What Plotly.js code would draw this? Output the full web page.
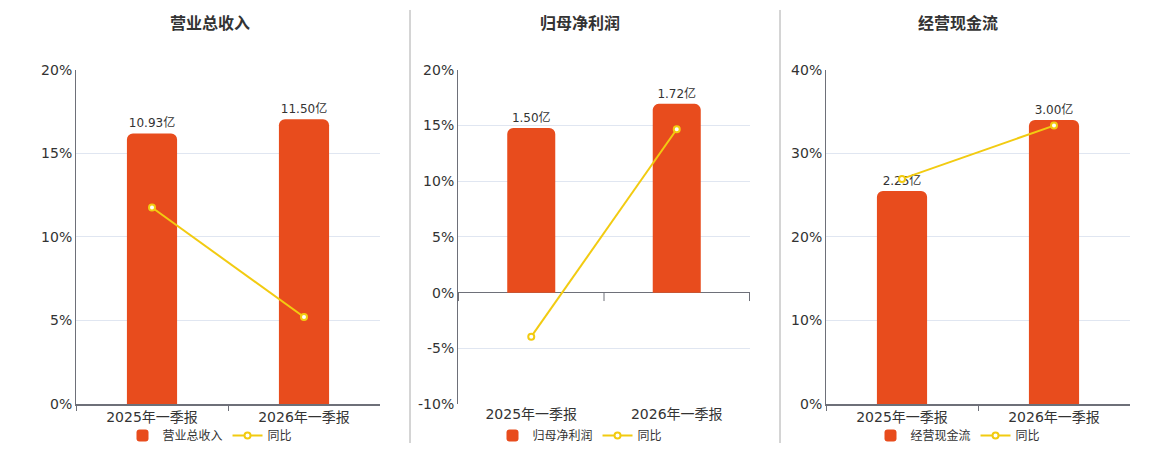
<!DOCTYPE html>
<html>
<head>
<meta charset="utf-8">
<script src="https://cdn.plot.ly/plotly-3.0.1.min.js"></script>
<style>
  html, body { margin: 0; padding: 0; background: #fff; }
  #chart { width: 1160px; height: 450px; }
</style>
</head>
<body>
<div id="chart"></div>
<script>
// categories and values
const periods = ['2025年一季报', '2026年一季报'];
const panelTitles = ['营业总收入', '归母净利润', '经营现金流'];
const revenue = [10.93, 11.50];       // 亿
const revenueYoy = [11.76, 5.21];     // %
const netProfit = [1.50, 1.72];
const netProfitYoy = [-3.95, 14.67];
const cashFlow = [2.25, 3.00];
const cashFlowYoy = [26.95, 33.33];

const barColor = '#E84C1D';
const lineColor = '#F2CB11';
const font = 'DejaVu Sans, Noto Sans CJK SC, sans-serif';
const cjk = 'Noto Sans CJK SC, sans-serif';

const panels = [
    { bars: revenue, yoy: revenueYoy, pctRange: [0, 20], dtick: 5, barRange: [0, 13.5], x: [76, 380], cx: 210 },
    { bars: netProfit, yoy: netProfitYoy, pctRange: [-10, 20], dtick: 5, barRange: [-1.015, 2.03], x: [458, 750], cx: 580 },
    { bars: cashFlow, yoy: cashFlowYoy, pctRange: [0, 40], dtick: 10, barRange: [0, 3.53], x: [826, 1130], cx: 958 }
];

const W = 1160, H = 450;
const yDomain = [1 - 405 / H, 1 - 70 / H];

const traces = [];
const layout = {
    width: W, height: H,
    margin: { l: 0, r: 0, t: 0, b: 0 },
    paper_bgcolor: '#fff', plot_bgcolor: 'rgba(0,0,0,0)',
    bargap: 0.67,
    font: { family: font, color: '#333', size: 12 },
    annotations: [], shapes: []
};

panels.forEach((p, i) => {
    const xName = i === 0 ? 'x' : 'x' + (i + 1);
    const barY = i === 0 ? 'y' : 'y' + (2 * i + 1);
    const pctY = 'y' + (2 * i + 2);
    const legendName = i === 0 ? 'legend' : 'legend' + (i + 1);
    const xKey = xName.replace('x', 'xaxis');
    const barKey = barY.replace('y', 'yaxis');
    const pctKey = pctY.replace('y', 'yaxis');

    traces.push({
        type: 'bar', x: periods, y: p.bars, xaxis: xName, yaxis: barY,
        name: panelTitles[i], legend: legendName,
        marker: { color: barColor, cornerradius: 6 },
        texttemplate: '%{y:.2f}亿', textposition: 'outside', cliponaxis: false,
        textfont: { size: 12, color: '#333', family: font }
    });
    traces.push({
        type: 'scatter', mode: 'lines+markers', x: periods, y: p.yoy, xaxis: xName, yaxis: pctY,
        name: '同比', legend: legendName,
        line: { color: lineColor, width: 2 },
        marker: { symbol: 'circle', size: 6, color: '#fff', line: { color: lineColor, width: 2 } },
        cliponaxis: false
    });

    // percent ticks with a plain hyphen for negatives
    const tickVals = [];
    for (let v = p.pctRange[0]; v <= p.pctRange[1]; v += p.dtick) tickVals.push(v);
    const tickText = tickVals.map(v => v + '%');

    const x0 = p.x[0] / W, x1 = p.x[1] / W;
    layout[xKey] = {
        domain: [x0, x1], anchor: barY, type: 'category',
        showline: i !== 1, linecolor: '#6E7079', linewidth: 1.5,
        ticks: i !== 1 ? 'outside' : '', tickson: 'boundaries', ticklen: 5, tickcolor: '#6E7079',
        showgrid: false, tickfont: { size: 14, color: '#333', family: font },
        fixedrange: true
    };
    layout[barKey] = {
        domain: yDomain, anchor: xName, range: p.barRange, visible: false, fixedrange: true
    };
    layout[pctKey] = {
        overlaying: barY, anchor: xName, side: 'left', range: p.pctRange,
        tickmode: 'array', tickvals: tickVals, ticktext: tickText,
        showline: true, linecolor: '#6E7079', linewidth: 1,
        showgrid: true, gridcolor: '#E0E6F1', gridwidth: 1,
        zeroline: i === 1, zerolinecolor: '#6E7079', zerolinewidth: 1.5,
        tickfont: { size: 14, color: '#333', family: font }, ticks: '', ticklen: 0,
        fixedrange: true
    };

    layout[legendName] = {
        orientation: 'h', x: p.cx / W, xanchor: 'center', y: 1 - 436 / H, yanchor: 'middle',
        font: { size: 12, color: '#333', family: cjk }, bgcolor: 'rgba(0,0,0,0)',
        itemwidth: 30, tracegroupgap: 0
    };

    layout.annotations.push({
        text: '<b>' + panelTitles[i] + '</b>', xref: 'paper', yref: 'paper',
        x: p.cx / W, y: 1 - 22 / H, xanchor: 'center', yanchor: 'middle', showarrow: false,
        font: { size: 16, color: '#333', family: cjk }
    });

    // tick marks on the zero line for the profit panel
    if (i === 1) {
        for (let k = 0; k <= periods.length; k++) {
            layout.shapes.push({
                type: 'line', xref: xName, yref: pctY, x0: k - 0.5, x1: k - 0.5, y0: 0, y1: -0.75,
                line: { color: '#6E7079', width: 1 }
            });
        }
    }
});

// separators between panels
[410, 780].forEach(px => {
    layout.shapes.push({
        type: 'line', xref: 'paper', yref: 'paper', x0: px / W, x1: px / W,
        y0: 1 - 444 / H, y1: 1 - 10 / H, line: { color: '#AAAAAA', width: 1 }
    });
});

Plotly.newPlot('chart', traces, layout, { displayModeBar: false, staticPlot: true });
</script>
</body>
</html>
